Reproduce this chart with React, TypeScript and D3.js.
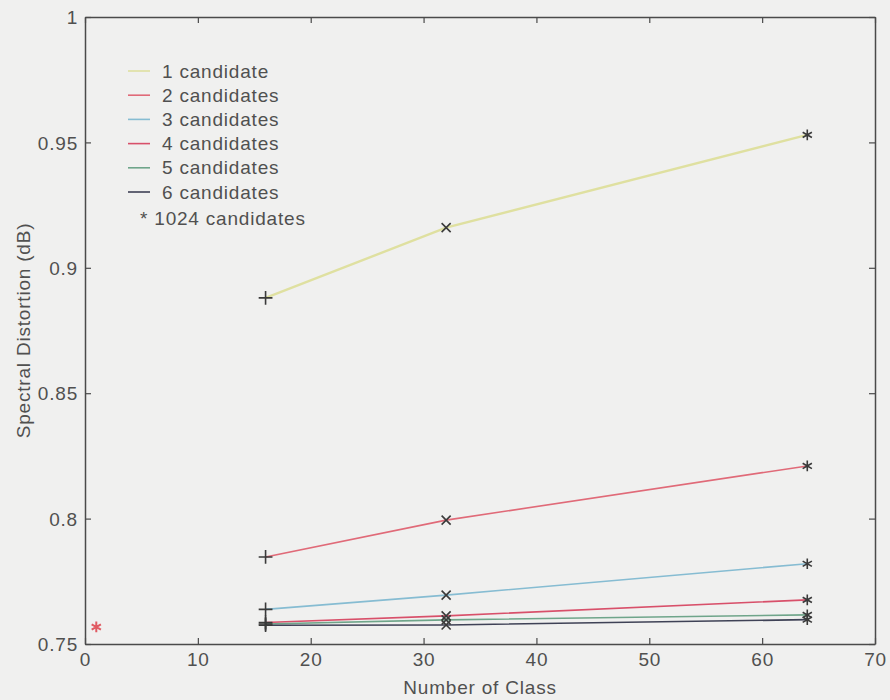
import React, { useEffect, useRef } from 'react';
import * as d3 from 'd3';

// chart data
const classes = [16, 32, 64];
const seriesNames = ['1 candidate', '2 candidates', '3 candidates', '4 candidates', '5 candidates', '6 candidates'];
const cand1 = [0.888, 0.916, 0.953];
const cand2 = [0.7847, 0.7994, 0.821];
const cand3 = [0.7638, 0.7695, 0.782];
const cand4 = [0.7586, 0.7612, 0.7676];
const cand5 = [0.758, 0.7596, 0.7616];
const cand6 = [0.7575, 0.7576, 0.7597];
const full1024 = { x: 1, y: 0.7568 };
const xTicks = [0, 10, 20, 30, 40, 50, 60, 70];
const yTicks = [0.75, 0.8, 0.85, 0.9, 0.95, 1];
const lineColors = ['#dfe0a0', '#e06a78', '#86bcd2', '#d8506a', '#6fa58a', '#3f4256'];

const App = () => {
  const ref = useRef<SVGSVGElement>(null);

  useEffect(() => {
    var w = 890, h = 700;
    var margin = { top: 17, right: 15, bottom: 56, left: 85 };
    var svg = d3.select(ref.current);
    svg.selectAll('*').remove();

    svg.append('rect').attr('width', w).attr('height', h).attr('fill', '#f0f0ef');

    var x = d3.scaleLinear().domain([0, 70]).range([margin.left, w - margin.right]);
    var y = d3.scaleLinear().domain([0.75, 1]).range([h - margin.bottom, margin.top]);

    var g = svg.append('g');
    var axisColor = '#4a4a4a';
    var font = 'Arial, "Liberation Sans", sans-serif';
    var textStyle = (sel) => sel
      .attr('fill', '#505050')
      .style('font-family', font)
      .style('font-size', '19px')
      .style('letter-spacing', '0.8px');

    // MATLAB-like inward ticks on all four sides
    var bottom = g.append('g').attr('transform', 'translate(0,' + y(0.75) + ')')
      .call(d3.axisBottom(x).tickValues(xTicks).tickSize(-6).tickPadding(9).tickSizeOuter(0));
    var top = g.append('g').attr('transform', 'translate(0,' + y(1) + ')')
      .call(d3.axisTop(x).tickValues(xTicks).tickSize(-6).tickFormat(() => '').tickSizeOuter(0));
    var left = g.append('g').attr('transform', 'translate(' + x(0) + ',0)')
      .call(d3.axisLeft(y).tickValues(yTicks).tickSize(-6).tickPadding(7).tickSizeOuter(0)
        .tickFormat((d) => d3.format('')(+(+d).toFixed(2))));
    var right = g.append('g').attr('transform', 'translate(' + x(70) + ',0)')
      .call(d3.axisRight(y).tickValues(yTicks).tickSize(-6).tickFormat(() => '').tickSizeOuter(0));

    [bottom, top, left, right].forEach((a) => {
      a.selectAll('path').attr('stroke', axisColor).attr('stroke-width', 1.5);
      a.selectAll('line').attr('stroke', axisColor).attr('stroke-width', 1.2);
      a.selectAll('text').call(textStyle);
    });
    left.selectAll('text').attr('dy', '0.35em');

    // lines
    var allSeries = [cand1, cand2, cand3, cand4, cand5, cand6];
    var line = d3.line<number>().x((d, i) => x(classes[i])).y((d) => y(d));
    allSeries.forEach((s, k) => {
      g.append('path').datum(s).attr('d', line).attr('fill', 'none')
        .attr('stroke', lineColors[k]).attr('stroke-width', k === 0 ? 2.4 : 1.6);
    });

    // markers: + at 16, x at 32, * at 64
    var symbols = [d3.symbolPlus, d3.symbolTimes, d3.symbolAsterisk];
    var sizes = [64, 55, 80];
    allSeries.forEach((s) => {
      s.forEach((v, i) => {
        g.append('path')
          .attr('d', d3.symbol().type(symbols[i]).size(sizes[i])())
          .attr('transform', 'translate(' + x(classes[i]) + ',' + y(v) + ')')
          .attr('fill', 'none').attr('stroke', '#3a3a3a').attr('stroke-width', 1.6);
      });
    });

    // 1024 candidates point
    g.append('path')
      .attr('d', d3.symbol().type(d3.symbolAsterisk).size(80)())
      .attr('transform', 'translate(' + x(full1024.x) + ',' + y(full1024.y) + ')')
      .attr('fill', 'none').attr('stroke', '#e05a62').attr('stroke-width', 2);

    // legend
    var lg = g.append('g');
    seriesNames.forEach((name, i) => {
      var ly = 71 + i * 24.2;
      lg.append('line').attr('x1', 128).attr('x2', 150).attr('y1', ly).attr('y2', ly)
        .attr('stroke', lineColors[i]).attr('stroke-width', 1.6);
      lg.append('text').attr('x', 162).attr('y', ly).attr('dy', '0.35em').call(textStyle).text(name);
    });
    lg.append('text').attr('x', 140).attr('y', 71 + 6 * 24.2 + 2).attr('dy', '0.35em')
      .call(textStyle).text('* 1024 candidates');

    // axis titles
    g.append('text').attr('x', (x(0) + x(70)) / 2).attr('y', 694).attr('text-anchor', 'middle')
      .call(textStyle).text('Number of Class');
    g.append('text').attr('transform', 'translate(30,' + (y(0.875)) + ') rotate(-90)')
      .attr('text-anchor', 'middle').call(textStyle).text('Spectral Distortion (dB)');
  }, []);

  return (
    <div style={{ position: 'absolute', left: 0, top: 0 }}>
      <svg ref={ref} width={890} height={700} style={{ display: 'block' }} />
    </div>
  );
};

export default App;
